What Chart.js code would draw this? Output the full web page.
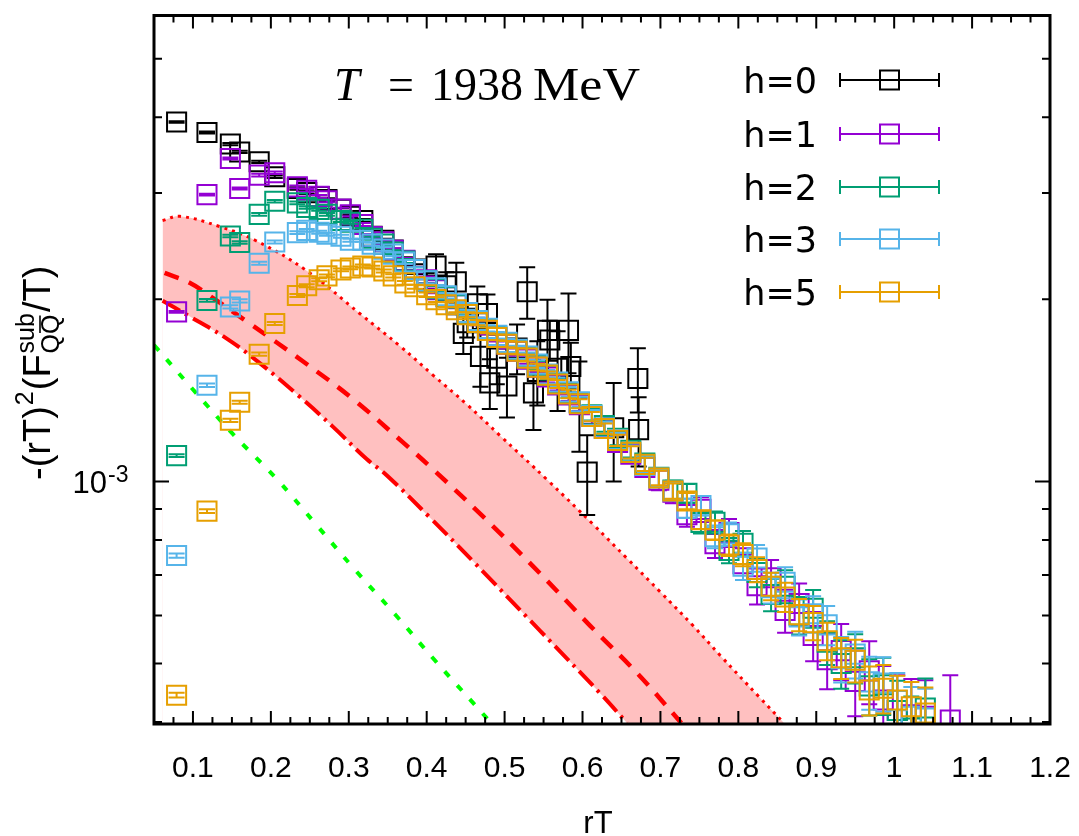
<!DOCTYPE html>
<html>
<head>
<meta charset="utf-8">
<script src="https://cdn.jsdelivr.net/npm/chart.js@4.4.1/dist/chart.umd.min.js"></script>
<style>
  html, body { margin: 0; padding: 0; background: #fff; }
  #wrap { width: 1079px; height: 836px; position: relative; }
</style>
</head>
<body>
<div id="wrap"><canvas id="chart"></canvas></div>
<script>
// rT values shared by h=1,2,3,5 (the last one only exists for h=1)
const rT = [0.079, 0.118, 0.148, 0.160, 0.185, 0.205, 0.234, 0.246, 0.262, 0.272,
  0.290, 0.302, 0.318, 0.330, 0.345, 0.357, 0.372, 0.385, 0.400, 0.412,
  0.425, 0.438, 0.452, 0.465, 0.478, 0.490, 0.503, 0.516, 0.529, 0.542,
  0.555, 0.568, 0.582, 0.596, 0.612, 0.628, 0.645, 0.662, 0.680, 0.698,
  0.716, 0.734, 0.752, 0.770, 0.788, 0.806, 0.824, 0.842, 0.860, 0.878,
  0.896, 0.914, 0.932, 0.950, 0.968, 0.986, 1.004, 1.022, 1.040, 1.072];

const F_h1 = [1.907e-3, 2.98e-3, 3.42e-3, 3.05e-3, 3.21e-3, 3.24e-3, 3.07e-3, 3.03e-3, 2.96e-3, 2.91e-3,
  2.82e-3, 2.76e-3, 2.66e-3, 2.54e-3, 2.49e-3, 2.41e-3, 2.32e-3, 2.24e-3, 2.155e-3, 2.074e-3,
  2.02e-3, 1.96e-3, 1.895e-3, 1.838e-3, 1.777e-3, 1.73e-3, 1.686e-3, 1.641e-3, 1.593e-3, 1.545e-3,
  1.488e-3, 1.444e-3, 1.39e-3, 1.339e-3, 1.28e-3, 1.223e-3, 1.16e-3, 1.109e-3, 1.055e-3, 1.005e-3,
  0.96e-3, 0.881e-3, 0.899e-3, 0.789e-3, 0.823e-3, 0.731e-3, 0.672e-3, 0.693e-3, 0.612e-3, 0.628e-3,
  0.556e-3, 0.507e-3, 0.525e-3, 0.467e-3, 0.486e-3, 0.435e-3, 0.418e-3, 0.411e-3, 0.409e-3, 0.403e-3];
const dF_h1 = [0.006e-3, 0.01e-3, 0.012e-3, 0.012e-3, 0.016e-3, 0.016e-3, 0.016e-3, 0.016e-3, 0.016e-3, 0.016e-3,
  0.016e-3, 0.016e-3, 0.016e-3, 0.016e-3, 0.02e-3, 0.02e-3, 0.022e-3, 0.024e-3, 0.026e-3, 0.026e-3,
  0.026e-3, 0.026e-3, 0.026e-3, 0.026e-3, 0.027e-3, 0.027e-3, 0.028e-3, 0.028e-3, 0.028e-3, 0.028e-3,
  0.03e-3, 0.03e-3, 0.032e-3, 0.032e-3, 0.034e-3, 0.034e-3, 0.036e-3, 0.036e-3, 0.038e-3, 0.038e-3,
  0.04e-3, 0.04e-3, 0.042e-3, 0.042e-3, 0.044e-3, 0.044e-3, 0.046e-3, 0.048e-3, 0.05e-3, 0.05e-3,
  0.052e-3, 0.054e-3, 0.056e-3, 0.058e-3, 0.058e-3, 0.06e-3, 0.06e-3, 0.06e-3, 0.06e-3, 0.075e-3];

const F_h2 = [1.103e-3, 1.992e-3, 2.546e-3, 2.484e-3, 2.764e-3, 2.906e-3, 2.888e-3, 2.838e-3, 2.817e-3, 2.764e-3,
  2.70e-3, 2.682e-3, 2.611e-3, 2.524e-3, 2.468e-3, 2.394e-3, 2.314e-3, 2.24e-3, 2.146e-3, 2.083e-3,
  2.02e-3, 1.96e-3, 1.895e-3, 1.838e-3, 1.784e-3, 1.737e-3, 1.692e-3, 1.648e-3, 1.605e-3, 1.557e-3,
  1.499e-3, 1.455e-3, 1.401e-3, 1.349e-3, 1.289e-3, 1.237e-3, 1.178e-3, 1.126e-3, 1.072e-3, 1.016e-3,
  0.968e-3, 0.956e-3, 0.855e-3, 0.856e-3, 0.769e-3, 0.79e-3, 0.707e-3, 0.65e-3, 0.671e-3, 0.601e-3,
  0.617e-3, 0.542e-3, 0.50e-3, 0.511e-3, 0.459e-3, 0.461e-3, 0.418e-3, 0.391e-3, 0.422e-3, null];
const dF_h2 = [0.006e-3, 0.01e-3, 0.012e-3, 0.012e-3, 0.014e-3, 0.014e-3, 0.014e-3, 0.014e-3, 0.014e-3, 0.014e-3,
  0.014e-3, 0.014e-3, 0.014e-3, 0.014e-3, 0.016e-3, 0.018e-3, 0.018e-3, 0.02e-3, 0.022e-3, 0.022e-3,
  0.022e-3, 0.022e-3, 0.022e-3, 0.022e-3, 0.023e-3, 0.023e-3, 0.024e-3, 0.024e-3, 0.024e-3, 0.024e-3,
  0.025e-3, 0.026e-3, 0.027e-3, 0.027e-3, 0.028e-3, 0.029e-3, 0.03e-3, 0.031e-3, 0.032e-3, 0.033e-3,
  0.034e-3, 0.034e-3, 0.035e-3, 0.036e-3, 0.037e-3, 0.038e-3, 0.039e-3, 0.04e-3, 0.042e-3, 0.043e-3,
  0.044e-3, 0.045e-3, 0.046e-3, 0.048e-3, 0.049e-3, 0.05e-3, 0.05e-3, 0.05e-3, 0.05e-3, null];

const F_h3 = [0.754e-3, 1.442e-3, 1.943e-3, 1.988e-3, 2.295e-3, 2.489e-3, 2.579e-3, 2.601e-3, 2.582e-3, 2.563e-3,
  2.543e-3, 2.505e-3, 2.505e-3, 2.468e-3, 2.422e-3, 2.376e-3, 2.306e-3, 2.24e-3, 2.146e-3, 2.091e-3,
  2.028e-3, 1.967e-3, 1.902e-3, 1.845e-3, 1.791e-3, 1.744e-3, 1.698e-3, 1.654e-3, 1.611e-3, 1.563e-3,
  1.505e-3, 1.46e-3, 1.406e-3, 1.354e-3, 1.285e-3, 1.227e-3, 1.173e-3, 1.117e-3, 1.063e-3, 1.013e-3,
  0.964e-3, 0.903e-3, 0.912e-3, 0.81e-3, 0.819e-3, 0.724e-3, 0.747e-3, 0.667e-3, 0.681e-3, 0.597e-3,
  0.604e-3, 0.579e-3, 0.509e-3, 0.518e-3, 0.466e-3, 0.464e-3, 0.434e-3, 0.409e-3, 0.406e-3, null];
const dF_h3 = [0.006e-3, 0.01e-3, 0.012e-3, 0.012e-3, 0.014e-3, 0.014e-3, 0.014e-3, 0.014e-3, 0.014e-3, 0.014e-3,
  0.014e-3, 0.014e-3, 0.014e-3, 0.014e-3, 0.016e-3, 0.017e-3, 0.018e-3, 0.02e-3, 0.021e-3, 0.021e-3,
  0.021e-3, 0.021e-3, 0.021e-3, 0.021e-3, 0.022e-3, 0.022e-3, 0.023e-3, 0.023e-3, 0.023e-3, 0.023e-3,
  0.024e-3, 0.025e-3, 0.026e-3, 0.026e-3, 0.027e-3, 0.028e-3, 0.029e-3, 0.03e-3, 0.031e-3, 0.032e-3,
  0.033e-3, 0.033e-3, 0.034e-3, 0.035e-3, 0.036e-3, 0.037e-3, 0.038e-3, 0.039e-3, 0.04e-3, 0.041e-3,
  0.042e-3, 0.043e-3, 0.044e-3, 0.046e-3, 0.047e-3, 0.048e-3, 0.048e-3, 0.048e-3, 0.048e-3, null];

const F_h5 = [0.443e-3, 0.893e-3, 1.262e-3, 1.352e-3, 1.623e-3, 1.824e-3, 2.03e-3, 2.106e-3, 2.155e-3, 2.187e-3,
  2.237e-3, 2.254e-3, 2.271e-3, 2.262e-3, 2.228e-3, 2.187e-3, 2.13e-3, 2.098e-3, 2.036e-3, 1.998e-3,
  1.96e-3, 1.923e-3, 1.887e-3, 1.831e-3, 1.777e-3, 1.73e-3, 1.686e-3, 1.641e-3, 1.599e-3, 1.545e-3,
  1.499e-3, 1.449e-3, 1.395e-3, 1.344e-3, 1.28e-3, 1.223e-3, 1.169e-3, 1.117e-3, 1.067e-3, 1.013e-3,
  0.964e-3, 0.928e-3, 0.864e-3, 0.831e-3, 0.785e-3, 0.757e-3, 0.715e-3, 0.671e-3, 0.644e-3, 0.602e-3,
  0.584e-3, 0.545e-3, 0.511e-3, 0.506e-3, 0.452e-3, 0.455e-3, 0.435e-3, 0.424e-3, 0.414e-3, null];
const dF_h5 = [0.004e-3, 0.006e-3, 0.008e-3, 0.008e-3, 0.01e-3, 0.01e-3, 0.012e-3, 0.012e-3, 0.012e-3, 0.012e-3,
  0.012e-3, 0.012e-3, 0.012e-3, 0.012e-3, 0.013e-3, 0.014e-3, 0.015e-3, 0.016e-3, 0.017e-3, 0.018e-3,
  0.018e-3, 0.018e-3, 0.018e-3, 0.018e-3, 0.019e-3, 0.019e-3, 0.02e-3, 0.02e-3, 0.02e-3, 0.02e-3,
  0.021e-3, 0.022e-3, 0.022e-3, 0.023e-3, 0.023e-3, 0.024e-3, 0.025e-3, 0.026e-3, 0.027e-3, 0.028e-3,
  0.028e-3, 0.029e-3, 0.03e-3, 0.031e-3, 0.032e-3, 0.033e-3, 0.034e-3, 0.035e-3, 0.036e-3, 0.037e-3,
  0.038e-3, 0.039e-3, 0.04e-3, 0.041e-3, 0.042e-3, 0.042e-3, 0.042e-3, 0.042e-3, 0.042e-3, null];

// h=0 has its own, shorter list of rT values
const rT_h0 = [0.079, 0.118, 0.148, 0.160, 0.185, 0.205, 0.234, 0.246, 0.262, 0.272,
  0.290, 0.302, 0.318, 0.330, 0.345, 0.357, 0.372, 0.385, 0.400, 0.412,
  0.425, 0.438, 0.447, 0.452, 0.465, 0.469, 0.478, 0.481, 0.490, 0.503,
  0.516, 0.529, 0.537, 0.542, 0.555, 0.558, 0.568, 0.582, 0.585, 0.596,
  0.606, 0.640, 0.671, 0.672];
const F_h0 = [3.93e-3, 3.776e-3, 3.613e-3, 3.506e-3, 3.377e-3, 3.19e-3, 3.05e-3, 3.003e-3, 2.958e-3, 2.925e-3,
  2.817e-3, 2.744e-3, 2.70e-3, 2.543e-3, 2.505e-3, 2.413e-3, 2.314e-3, 2.245e-3, 2.146e-3, 2.271e-3,
  2.106e-3, 2.138e-3, 1.757e-3, 1.83e-3, 1.967e-3, 1.61e-3, 1.895e-3, 1.455e-3, 1.599e-3, 1.438e-3,
  1.661e-3, 2.059e-3, 1.401e-3, 1.52e-3, 1.777e-3, 1.713e-3, 1.539e-3, 1.777e-3, 1.549e-3, 1.349e-3,
  1.036e-3, 1.227e-3, 1.48e-3, 1.218e-3];
const dF_h0 = [0.012e-3, 0.014e-3, 0.015e-3, 0.015e-3, 0.015e-3, 0.015e-3, 0.015e-3, 0.015e-3, 0.015e-3, 0.015e-3,
  0.015e-3, 0.015e-3, 0.015e-3, 0.015e-3, 0.015e-3, 0.015e-3, 0.035e-3, 0.042e-3, 0.065e-3, 0.103e-3,
  0.111e-3, 0.161e-3, 0.133e-3, 0.10e-3, 0.134e-3, 0.176e-3, 0.143e-3, 0.137e-3, 0.151e-3, 0.163e-3,
  0.157e-3, 0.202e-3, 0.185e-3, 0.185e-3, 0.221e-3, 0.13e-3, 0.232e-3, 0.268e-3, 0.146e-3, 0.229e-3,
  0.156e-3, 0.227e-3, 0.18e-3, 0.16e-3];

// curves: band upper edge (dotted), central (dashed), lower edge (dash-dot), green dotted
const upX = [0.061, 0.083, 0.134, 0.181, 0.246, 0.314, 0.366, 0.408, 0.452, 0.494, 0.555, 0.614, 0.657, 0.700, 0.742, 0.777, 0.827, 0.8585];
const upY = [2.70e-3, 2.744e-3, 2.64e-3, 2.50e-3, 2.23e-3, 1.895e-3, 1.673e-3, 1.499e-3, 1.339e-3, 1.191e-3, 1.005e-3, 0.848e-3, 0.746e-3, 0.656e-3, 0.577e-3, 0.515e-3, 0.4396e-3, 0.3986e-3];
const midX = [0.0636, 0.0957, 0.1214, 0.1729, 0.2410, 0.3053, 0.3696, 0.4081, 0.4698, 0.5366, 0.6099, 0.6703, 0.7268];
const midY = [2.212e-3, 2.13e-3, 2.028e-3, 1.824e-3, 1.58e-3, 1.369e-3, 1.16e-3, 1.047e-3, 0.881e-3, 0.7236e-3, 0.577e-3, 0.4815e-3, 0.3986e-3];
const lowX = [0.061, 0.0915, 0.1429, 0.1857, 0.2371, 0.2795, 0.3229, 0.3486, 0.4043, 0.4595, 0.5456, 0.6228, 0.657];
const lowY = [1.99e-3, 1.888e-3, 1.724e-3, 1.569e-3, 1.380e-3, 1.232e-3, 1.089e-3, 1.024e-3, 0.871e-3, 0.7375e-3, 0.566e-3, 0.446e-3, 0.3986e-3];
const greenX = [0.05, 0.10, 0.1514, 0.2072, 0.2586, 0.3078, 0.3593, 0.4107, 0.4621, 0.4792, 0.484];
const greenY = [1.681e-3, 1.419e-3, 1.197e-3, 1.010e-3, 0.847e-3, 0.7146e-3, 0.603e-3, 0.5055e-3, 0.4266e-3, 0.4031e-3, 0.397e-3];

const xMajor = [0.1, 0.2, 0.3, 0.4, 0.5, 0.6, 0.7, 0.8, 0.9, 1.0, 1.1, 1.2];
const xTickLabels = ['0.1', '0.2', '0.3', '0.4', '0.5', '0.6', '0.7', '0.8', '0.9', '1', '1.1', '1.2'];
const yMinor = [4e-4, 5e-4, 6e-4, 7e-4, 8e-4, 9e-4, 2e-3, 3e-3, 4e-3, 5e-3];

const series = [
  { label: 'h=0', xs: rT_h0, ys: F_h0, err: dF_h0, color: '#000000' },
  { label: 'h=1', xs: rT, ys: F_h1, err: dF_h1, color: '#9400d3' },
  { label: 'h=2', xs: rT, ys: F_h2, err: dF_h2, color: '#009e73' },
  { label: 'h=3', xs: rT, ys: F_h3, err: dF_h3, color: '#56b4e9' },
  { label: 'h=5', xs: rT, ys: F_h5, err: dF_h5, color: '#e69f00' }
];

function pairs(xs, ys) {
  return xs.map((x, i) => ({ x: x, y: ys[i] }));
}

function curve(xs, ys, color, width, dash, fillColor, order) {
  return {
    data: pairs(xs, ys),
    borderColor: color,
    borderWidth: width,
    borderDash: dash,
    borderCapStyle: 'butt',
    pointRadius: 0,
    tension: 0.4,
    fill: fillColor ? 'start' : false,
    backgroundColor: fillColor || 'transparent',
    order: order
  };
}

const datasets = [
  curve(upX, upY, '#ff0000', 3, [3, 5], '#ffc0c0', 20),
  curve(lowX, lowY, '#ff0000', 4, [20, 6, 3, 6], '#ffffff', 19),
  curve(midX, midY, '#ff0000', 4.5, [15, 11], null, 18),
  curve(greenX, greenY, '#00ff00', 4, [7, 12], null, 17)
];
series.forEach((s, i) => {
  datasets.push({
    label: s.label,
    data: pairs(s.xs, s.ys),
    errors: s.err,
    showLine: false,
    borderColor: s.color,
    backgroundColor: 'transparent',
    pointStyle: 'rect',
    pointRadius: 13.5,
    pointHoverRadius: 13.5,
    pointBorderWidth: 2,
    order: 10 - i
  });
});

const errorBars = {
  id: 'errorBars',
  afterDatasetDraw(chart, args) {
    const ds = chart.data.datasets[args.index];
    if (!ds.errors) return;
    const { ctx, chartArea: a } = chart;
    const xs = chart.scales.x, ys = chart.scales.y;
    ctx.save();
    ctx.beginPath();
    ctx.rect(a.left, a.top, a.right - a.left, a.bottom - a.top);
    ctx.clip();
    ctx.strokeStyle = ds.borderColor;
    ctx.lineWidth = 2;
    ds.data.forEach((p, i) => {
      if (p.y == null) return;
      const e = ds.errors[i];
      const px = xs.getPixelForValue(p.x);
      const top = ys.getPixelForValue(p.y + e);
      const bot = ys.getPixelForValue(p.y - e);
      ctx.beginPath();
      ctx.moveTo(px, top); ctx.lineTo(px, bot);
      ctx.moveTo(px - 8, top); ctx.lineTo(px + 8, top);
      ctx.moveTo(px - 8, bot); ctx.lineTo(px + 8, bot);
      ctx.stroke();
    });
    ctx.restore();
  }
};

const decorations = {
  id: 'decorations',
  afterDraw(chart) {
    const { ctx, chartArea: a } = chart;
    const xs = chart.scales.x, ys = chart.scales.y;
    ctx.save();
    ctx.strokeStyle = '#000';
    ctx.fillStyle = '#000';
    ctx.lineWidth = 2;

    // inward ticks on all four sides
    ctx.beginPath();
    for (let k = 3; k <= 47; k++) {
      const px = xs.getPixelForValue(k * 0.025);
      const len = (k % 4 === 0) ? 13 : 7;
      ctx.moveTo(px, a.bottom); ctx.lineTo(px, a.bottom - len);
      ctx.moveTo(px, a.top); ctx.lineTo(px, a.top + len);
    }
    yMinor.forEach(v => {
      const py = ys.getPixelForValue(v);
      ctx.moveTo(a.left, py); ctx.lineTo(a.left + 8, py);
      ctx.moveTo(a.right, py); ctx.lineTo(a.right - 8, py);
    });
    const p3 = ys.getPixelForValue(1e-3);
    ctx.moveTo(a.left, p3); ctx.lineTo(a.left + 15, p3);
    ctx.moveTo(a.right, p3); ctx.lineTo(a.right - 15, p3);
    ctx.stroke();

    // frame
    ctx.lineWidth = 3;
    ctx.strokeRect(a.left, a.top, a.right - a.left, a.bottom - a.top);

    // x tick labels
    ctx.font = "30px 'Liberation Sans'";
    ctx.textAlign = 'center';
    ctx.textBaseline = 'alphabetic';
    xMajor.forEach((v, i) => {
      ctx.fillText(xTickLabels[i], xs.getPixelForValue(v), 777);
    });
    // y tick label 10^-3
    ctx.textAlign = 'right';
    ctx.font = "31px 'Liberation Sans'";
    ctx.fillText('10', 107, p3 + 12);
    ctx.textAlign = 'left';
    ctx.font = "23px 'Liberation Sans'";
    ctx.fillText('-3', 108, p3 + 1);

    // x axis title
    ctx.textAlign = 'center';
    ctx.font = "31px 'Liberation Sans'";
    ctx.fillText('rT', 598, 833);

    // y axis title, rotated, starting near y=480 and running upward
    ctx.save();
    ctx.translate(50, 480);
    ctx.rotate(-Math.PI / 2);
    ctx.textAlign = 'left';
    const big = "38px 'Liberation Sans'", small = "25px 'Liberation Sans'";
    const parts = [
      { t: '-(rT)', f: big, dy: 0 },
      { t: '2', f: small, dy: -17 },
      { t: '(F', f: big, dy: 0 },
      { t: 'sub', f: small, dy: -16, sub: 'QQ' },
      { t: '/T)', f: big, dy: 0 }
    ];
    let cx = 0;
    parts.forEach(p => {
      ctx.font = p.f;
      let w = ctx.measureText(p.t).width + 1;
      ctx.fillText(p.t, cx, p.dy);
      if (p.sub) {
        ctx.fillText(p.sub, cx, 9);
        const qw = ctx.measureText('Q').width;
        w = Math.max(w, ctx.measureText(p.sub).width + 1);
        ctx.lineWidth = 1.6;
        ctx.beginPath();
        ctx.moveTo(cx + qw + 1, -10); ctx.lineTo(cx + 2 * qw - 1, -10);
        ctx.stroke();
      }
      cx += w;
    });
    ctx.restore();

    // title
    ctx.textAlign = 'left';
    ctx.font = "italic 46px 'Liberation Serif'";
    ctx.fillText('T', 334, 100);
    ctx.font = "46px 'Liberation Serif'";
    ctx.fillText('=', 388, 100);
    ctx.fillText('1938', 431, 100);
    const mw = ctx.measureText('MeV').width;
    ctx.save();
    ctx.translate(533, 100);
    ctx.scale(107 / mw, 1);
    ctx.fillText('MeV', 0, 0);
    ctx.restore();

    // legend with horizontal error-bar samples
    const rows = [80, 134, 187, 239, 292];
    series.forEach((s, i) => {
      const y = rows[i];
      ctx.fillStyle = '#000';
      ctx.textAlign = 'right';
      ctx.font = "35px 'DejaVu Sans'";
      ctx.fillText(s.label, 817, y + 13);
      ctx.strokeStyle = s.color;
      ctx.lineWidth = 2;
      ctx.beginPath();
      ctx.moveTo(840, y); ctx.lineTo(939, y);
      ctx.moveTo(840, y - 7); ctx.lineTo(840, y + 7);
      ctx.moveTo(939, y - 7); ctx.lineTo(939, y + 7);
      ctx.stroke();
      ctx.strokeRect(880, y - 9.5, 19, 19);
    });
    ctx.restore();
  }
};

new Chart(document.getElementById('chart').getContext('2d'), {
  type: 'line',
  data: { datasets: datasets },
  options: {
    responsive: true,
    maintainAspectRatio: false,
    animation: false,
    events: [],
    layout: { padding: { left: 0, right: 29, top: 9, bottom: 0 } },
    plugins: { legend: { display: false }, tooltip: { enabled: false } },
    scales: {
      x: {
        type: 'linear', min: 0.05, max: 1.2,
        grid: { display: false }, border: { display: false },
        ticks: { display: false },
        afterFit: s => { s.height = 112; }
      },
      y: {
        type: 'logarithmic', min: 3.97e-4, max: 5.895e-3,
        grid: { display: false }, border: { display: false },
        ticks: { display: false },
        afterFit: s => { s.width = 154; }
      }
    }
  },
  plugins: [errorBars, decorations]
});
</script>
</body>
</html>
